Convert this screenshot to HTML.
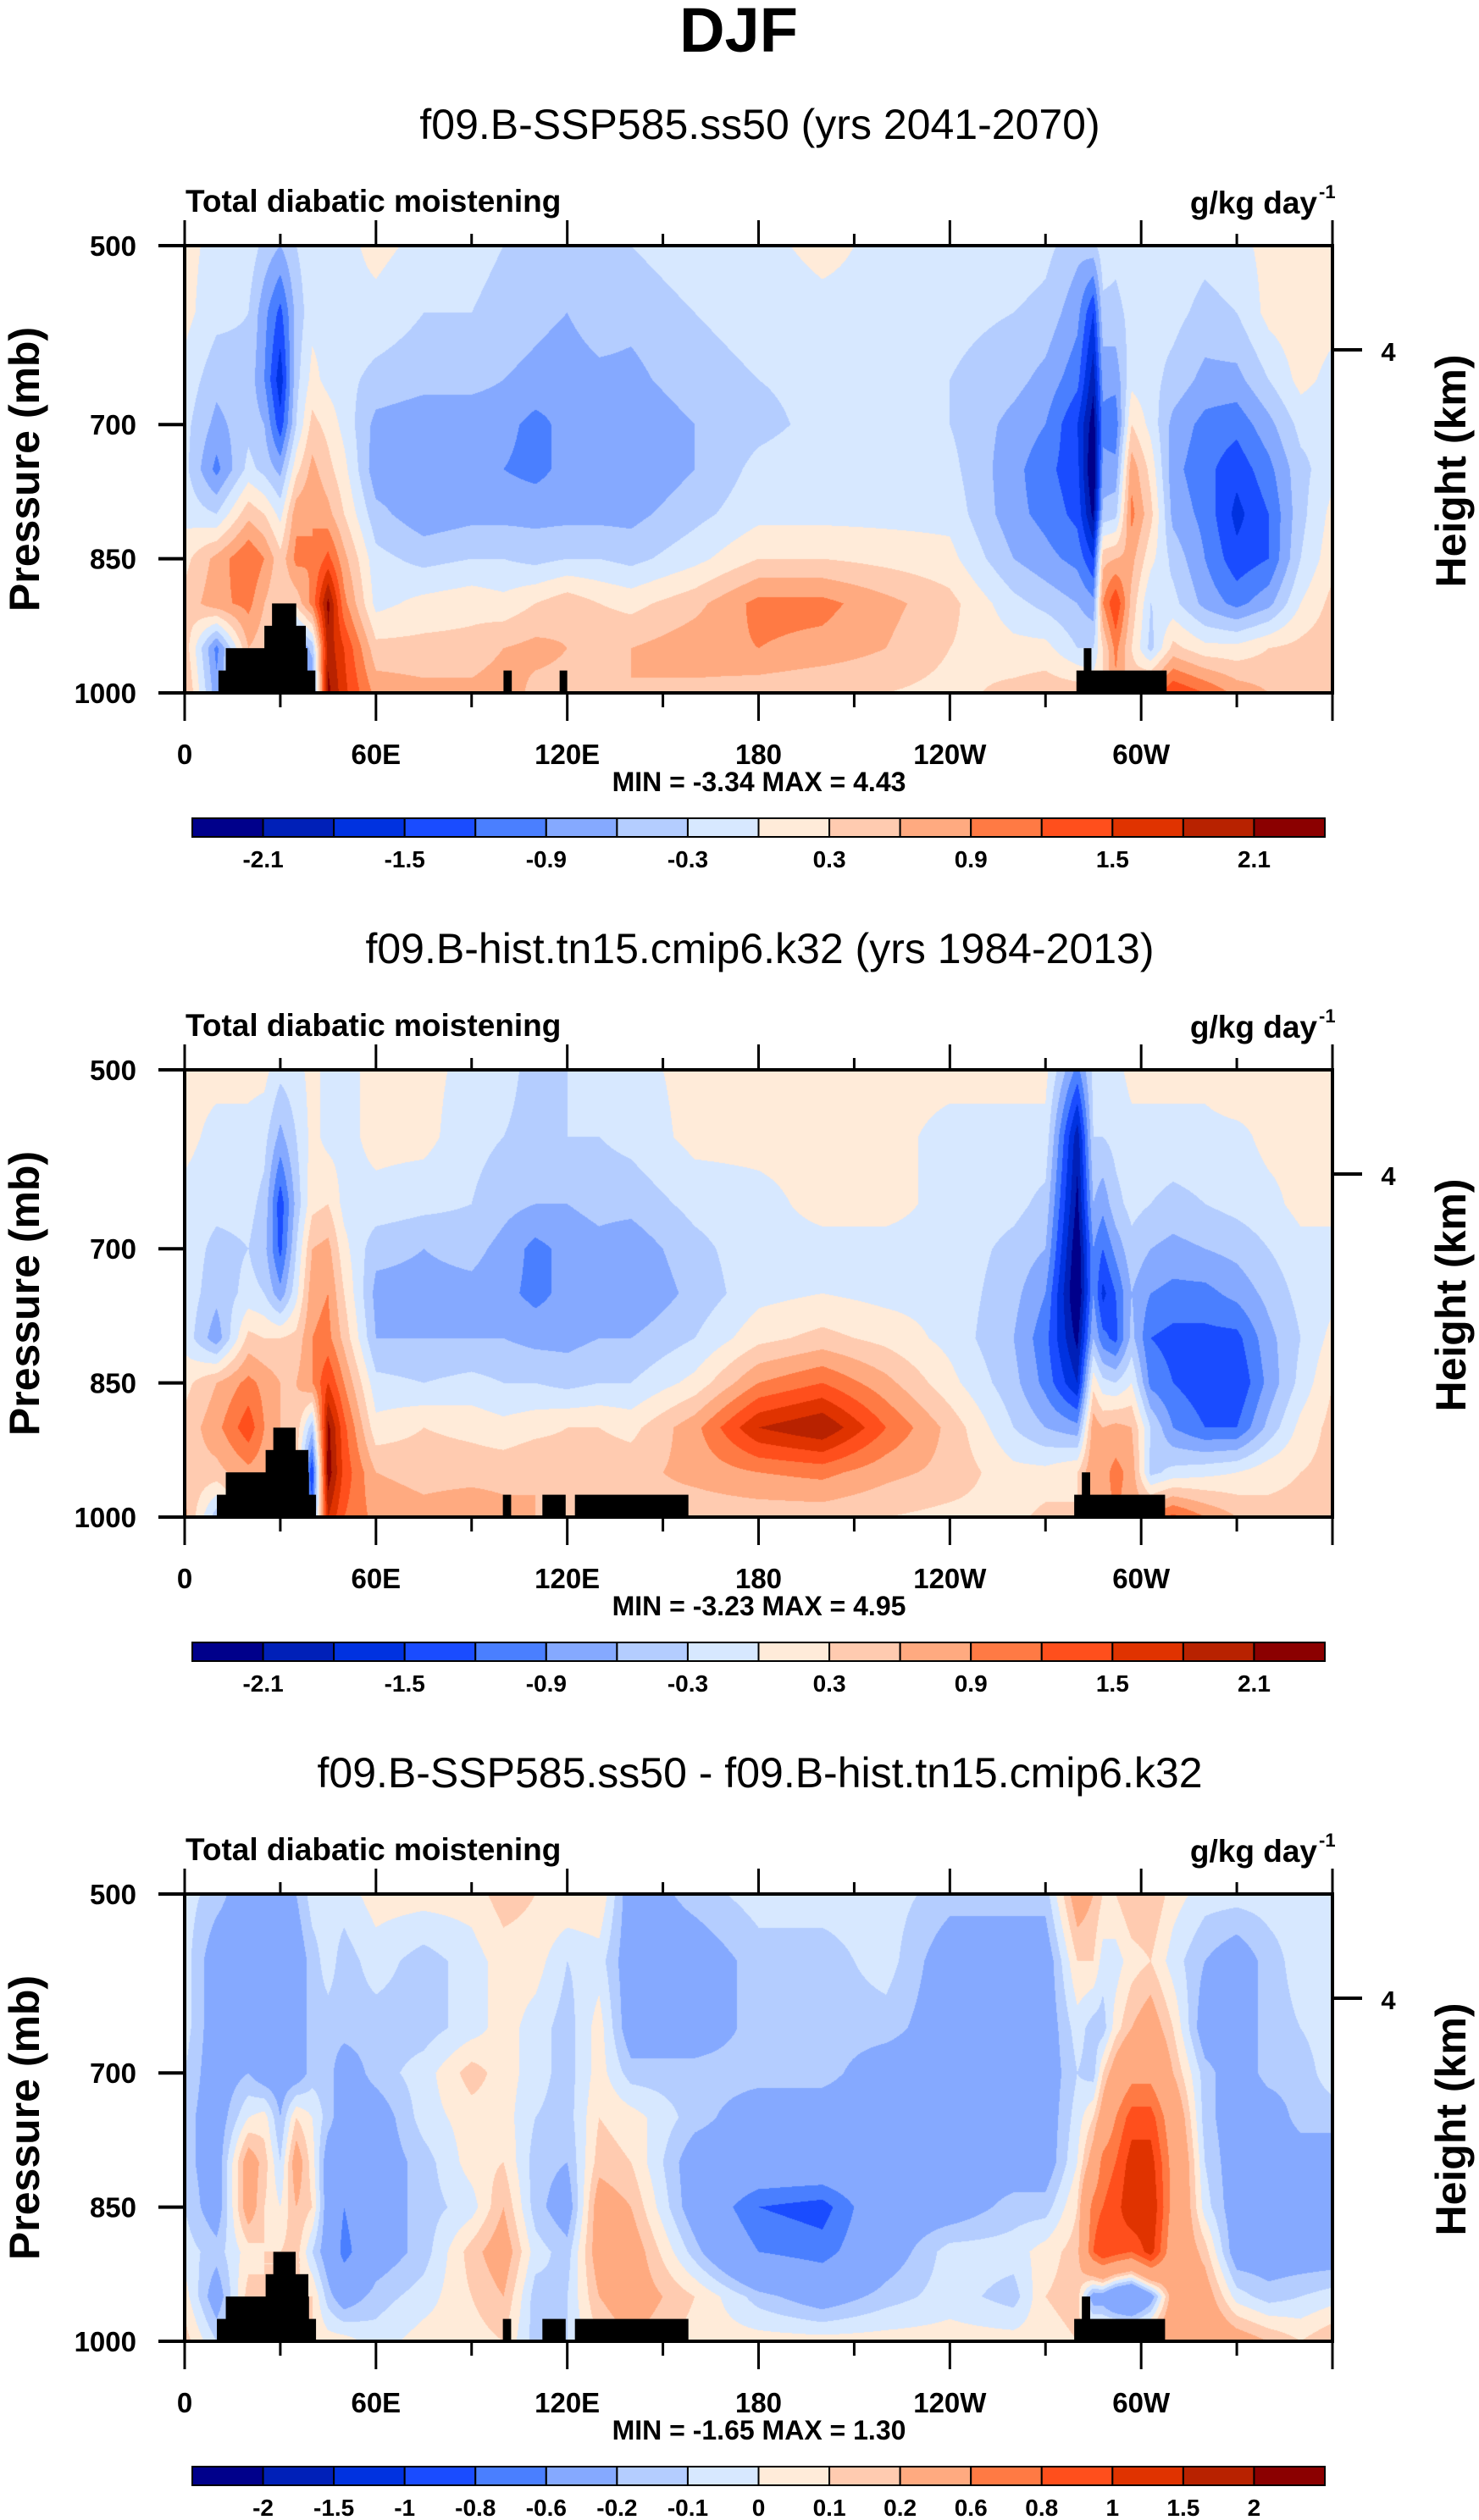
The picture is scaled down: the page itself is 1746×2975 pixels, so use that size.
<!DOCTYPE html>
<html><head><meta charset="utf-8">
<style>
html,body{margin:0;padding:0;background:#fff;}
#wrap{position:relative;width:1746px;height:2975px;overflow:hidden;background:#fff;font-family:"Liberation Sans",Arial,sans-serif;}
canvas{position:absolute;}
svg{position:absolute;left:0;top:0;}
</style></head>
<body>
<div id="wrap">
<canvas id="c0"></canvas>
<canvas id="c1"></canvas>
<canvas id="c2"></canvas>
<svg id="ov" width="1746" height="2975" xmlns="http://www.w3.org/2000/svg">
<text x="872" y="61" text-anchor="middle" font-size="74" font-weight="bold" font-family="Liberation Sans, sans-serif">DJF</text>
</svg>
</div>
<script>
const lonPts=[0,10,20,25,30,35,40,45,50,60,75,90,100,110,120,130,140,160,180,200,220,240,260,270,280,285,288,292,297,303,310,320,330,340,350,360];
const presLevels=[500,575,650,700,750,800,850,900,950,1000];
const field1=[
[0.1,0.1,-0.1,-0.2,-0.2,-0.1,0.2,0.4,0.5,0.7],
[-0.1,-0.2,-0.5,-0.7,-1.0,-0.3,0.7,0.8,-1.0,-0.8],
[-0.1,-0.3,-0.4,-0.4,-0.2,0.5,1.2,1.0,0.6,0.5],
[-0.4,-0.8,-0.9,-0.6,-0.4,0.3,0.9,0.6,0.4,0.4],
[-0.6,-1.3,-1.7,-1.4,-0.7,-0.1,0.4,0.3,0.3,0.3],
[-0.3,-0.5,-0.4,-0.3,0.2,0.8,1.0,0.4,-1.0,-0.8],
[-0.1,-0.1,0.1,0.4,0.7,0.9,0.9,1.0,-0.5,-1.0],
[-0.1,-0.1,-0.1,0.2,0.4,0.7,1.3,2.2,2.0,2.2],
[-0.1,-0.1,-0.2,-0.1,0.1,0.3,0.7,1.0,1.5,1.6],
[0.1,-0.1,-0.4,-0.7,-0.8,-0.5,-0.2,-0.1,0.4,0.8],
[-0.1,-0.3,-0.5,-0.8,-0.8,-0.8,-0.4,0.1,0.4,0.7],
[-0.2,-0.3,-0.5,-0.8,-0.9,-0.7,-0.3,0.2,0.4,0.7],
[-0.3,-0.4,-0.6,-0.8,-0.9,-0.7,-0.3,0.1,0.6,0.8],
[-0.3,-0.5,-0.7,-1.0,-1.0,-0.7,-0.4,0.3,0.7,0.5],
[-0.4,-0.6,-0.8,-0.8,-0.8,-0.7,-0.3,0.5,0.6,0.5],
[-0.3,-0.4,-0.7,-0.8,-0.8,-0.7,-0.3,0.3,0.6,0.5],
[-0.3,-0.5,-0.7,-0.9,-0.9,-0.7,-0.4,0.2,0.6,0.6],
[-0.1,-0.3,-0.4,-0.6,-0.6,-0.4,-0.1,0.5,0.8,0.5],
[-0.1,-0.2,-0.3,-0.4,-0.2,-0.1,0.3,1.0,0.9,0.4],
[0.1,-0.1,-0.2,-0.2,-0.1,-0.1,0.3,1.0,0.8,0.3],
[-0.1,-0.1,-0.2,-0.2,-0.1,-0.1,0.2,0.7,0.6,0.3],
[-0.1,-0.2,-0.3,-0.3,-0.2,-0.1,0.1,0.4,0.3,0.2],
[-0.1,-0.3,-0.5,-0.7,-0.8,-0.8,-0.6,-0.2,0.1,0.4],
[-0.2,-0.4,-0.7,-0.9,-1.1,-1.0,-0.8,-0.4,0.1,0.5],
[-0.5,-0.8,-1.1,-1.5,-1.4,-1.3,-1.0,-0.6,-0.3,0.5],
[-0.4,-1.5,-2.0,-2.3,-2.5,-2.2,-1.5,-0.8,-0.3,0.3],
[-0.1,-0.4,-0.8,-1.0,-0.8,-0.5,0.5,0.9,0.3,0.3],
[-0.2,-0.4,-0.8,-1.1,-0.8,-0.4,0.6,1.5,1.0,0.8],
[-0.1,-0.2,-0.1,0.3,0.8,1.0,0.7,0.5,0.3,0.5],
[-0.1,-0.2,-0.2,-0.1,0.2,0.4,0.1,-0.3,-0.4,1.0],
[-0.1,-0.2,-0.4,-0.7,-0.8,-0.7,-0.4,-0.2,0.4,1.5],
[-0.2,-0.4,-0.7,-1.0,-1.1,-1.0,-0.9,-0.7,0.1,1.2],
[-0.1,-0.3,-0.7,-1.1,-1.4,-1.6,-1.4,-1.0,0.1,0.8],
[0.1,0.1,-0.3,-0.7,-1.0,-1.2,-1.2,-0.7,0.3,0.6],
[0.1,0.2,0.1,-0.2,-0.4,-0.4,-0.3,0.0,0.4,0.5],
[0.1,0.1,-0.1,-0.2,-0.1,0.1,0.2,0.4,0.5,0.6]
];
const field2=[
[0.1,0.1,-0.1,-0.1,-0.1,-0.1,0.2,0.4,0.5,0.7],
[0.1,-0.1,-0.2,-0.4,-0.5,-0.8,0.6,0.8,0.5,-0.5],
[0.1,-0.1,-0.2,-0.3,-0.2,0.4,1.0,1.4,0.8,0.6],
[0.1,-0.2,-0.4,-0.5,-0.3,0.3,0.8,0.9,0.7,0.6],
[-0.2,-0.7,-1.4,-1.3,-0.8,0.3,0.6,0.6,0.5,0.5],
[-0.1,-0.3,-0.5,-0.3,-0.1,0.4,0.6,0.5,0.4,0.4],
[0.1,0.1,0.2,0.6,0.8,0.9,0.9,-0.5,-1.5,-1.0],
[-0.1,-0.1,0.3,0.7,0.9,1.0,1.5,2.2,2.3,1.8],
[-0.1,-0.1,-0.1,0.1,0.3,0.5,0.9,1.3,1.4,1.2],
[0.1,0.1,-0.1,-0.5,-0.7,-0.6,-0.2,0.1,0.6,0.8],
[0.1,0.1,-0.2,-0.6,-0.7,-0.6,-0.3,0.3,0.5,0.7],
[-0.1,-0.2,-0.3,-0.5,-0.7,-0.6,-0.2,0.2,0.5,0.8],
[-0.2,-0.3,-0.5,-0.7,-0.8,-0.6,-0.3,0.1,0.5,0.7],
[-0.4,-0.4,-0.6,-1.0,-1.0,-0.7,-0.3,0.2,0.6,0.6],
[-0.3,-0.3,-0.6,-0.8,-0.8,-0.7,-0.4,0.3,0.5,0.6],
[-0.2,-0.3,-0.5,-0.7,-0.7,-0.6,-0.3,0.3,0.5,0.5],
[-0.1,-0.2,-0.5,-0.8,-0.9,-0.6,-0.3,0.2,0.5,0.5],
[0.1,0.1,-0.2,-0.4,-0.5,-0.3,0.1,0.8,0.7,0.4],
[0.1,0.1,-0.1,-0.1,-0.1,0.2,0.9,1.8,0.9,0.4],
[0.1,0.1,0.1,-0.1,0.0,0.4,1.2,2.1,1.0,0.4],
[0.1,0.1,0.1,-0.1,-0.1,0.2,0.7,1.2,0.7,0.3],
[0.1,-0.1,-0.1,-0.1,-0.1,-0.1,0.1,0.5,0.5,0.2],
[0.1,-0.1,-0.2,-0.4,-0.5,-0.6,-0.5,-0.3,0.1,0.2],
[0.1,-0.1,-0.4,-0.6,-0.9,-1.1,-1.0,-0.6,0.1,0.4],
[-1.0,-2.0,-2.2,-2.4,-2.5,-2.2,-1.8,-0.8,0.3,0.3],
[-0.2,-0.3,-0.6,-0.9,-0.9,-0.6,0.2,0.8,0.9,0.8],
[-0.1,-0.3,-0.8,-1.2,-1.6,-1.1,-0.2,0.6,0.8,0.8],
[-0.1,-0.2,-0.4,-0.8,-1.2,-1.3,-0.3,0.7,1.0,0.9],
[0.1,-0.1,-0.2,-0.4,-0.6,-0.5,0.0,0.6,0.8,0.8],
[0.1,-0.1,-0.3,-0.6,-0.9,-1.2,-1.0,-0.3,-0.4,1.0],
[0.1,-0.1,-0.4,-0.7,-1.0,-1.3,-1.2,-0.9,-0.2,1.3],
[0.1,-0.1,-0.3,-0.6,-1.0,-1.3,-1.4,-1.2,-0.1,0.9],
[0.3,-0.1,-0.2,-0.5,-0.8,-1.3,-1.5,-1.2,0.0,0.6],
[0.1,0.1,-0.1,-0.3,-0.5,-0.7,-0.8,-0.5,0.2,0.4],
[0.1,0.1,0.1,-0.1,-0.2,-0.3,-0.2,0.1,0.3,0.4],
[0.1,0.1,0.1,-0.1,-0.1,0.1,0.3,0.4,0.4,0.4]
];
const field3=[
[-0.05,-0.05,-0.05,-0.1,-0.15,-0.15,-0.1,-0.05,0.05,0.15],
[-0.15,-0.3,-0.3,-0.3,-0.3,-0.3,-0.3,-0.15,-0.3,-0.1],
[-0.3,-0.3,-0.3,-0.2,0.0,0.3,0.3,0.05,0.15,0.1],
[-0.3,-0.3,-0.3,-0.3,0.05,0.15,0.1,0.1,0.1,0.1],
[-0.3,-0.3,-0.4,-0.3,-0.2,-0.1,0.0,0.1,0.1,0.1],
[-0.2,-0.3,-0.3,-0.3,0.1,0.3,0.2,0.15,0.1,0.1],
[-0.05,-0.15,-0.15,-0.15,0.0,0.05,0.1,-0.1,0.1,0.1],
[-0.05,-0.05,-0.15,-0.15,-0.15,-0.3,-0.3,-0.3,-0.15,0.05],
[-0.05,-0.15,-0.15,-0.3,-0.3,-0.3,-0.6,-0.7,-0.3,0.05],
[0.05,-0.05,-0.15,-0.15,-0.3,-0.3,-0.3,-0.3,-0.15,-0.05],
[0.05,-0.15,-0.15,-0.05,-0.05,-0.15,-0.15,-0.15,-0.05,0.05],
[0.05,-0.05,-0.05,0.15,0.05,0.05,-0.05,0.15,0.1,0.05],
[0.15,0.05,0.05,0.05,0.05,0.1,0.2,0.3,0.2,0.1],
[0.1,0.05,-0.05,-0.05,-0.1,-0.15,-0.15,-0.05,-0.15,-0.15],
[0.1,-0.1,-0.15,-0.15,-0.15,-0.2,-0.3,-0.15,-0.1,-0.1],
[0.1,-0.05,0.05,0.05,0.1,0.15,0.3,0.3,0.2,0.1],
[-0.3,-0.3,-0.3,-0.15,0.05,0.1,0.2,0.3,0.3,0.2],
[-0.15,-0.3,-0.3,-0.15,-0.15,-0.3,-0.3,-0.15,0.1,0.05],
[-0.05,-0.15,-0.15,-0.15,-0.3,-0.3,-0.8,-0.6,-0.15,0.05],
[-0.05,-0.15,-0.15,-0.15,-0.3,-0.3,-0.9,-0.7,-0.3,0.05],
[-0.05,-0.05,-0.15,-0.3,-0.3,-0.3,-0.3,-0.3,-0.15,0.05],
[-0.15,-0.3,-0.3,-0.3,-0.3,-0.3,-0.3,-0.05,-0.05,0.05],
[-0.15,-0.3,-0.3,-0.3,-0.3,-0.3,-0.15,-0.05,-0.15,0.05],
[-0.15,-0.3,-0.3,-0.3,-0.3,-0.3,-0.15,0.05,0.1,0.05],
[0.3,0.1,-0.05,-0.1,-0.05,0.0,0.1,0.15,0.15,0.1],
[0.2,0.1,-0.15,-0.15,0.1,0.3,0.7,0.8,-0.3,0.2],
[0.1,-0.05,-0.15,0.1,0.3,0.7,0.8,1.0,-0.3,0.2],
[0.1,-0.05,0.05,0.3,0.6,0.8,0.9,0.9,-0.5,0.3],
[0.2,0.05,0.2,0.5,0.9,1.1,1.2,0.8,-0.6,0.3],
[0.2,0.1,0.3,0.5,0.9,1.1,1.2,1.1,-0.3,0.3],
[0.05,-0.05,0.1,0.2,0.4,0.5,0.5,0.4,0.3,0.4],
[-0.05,-0.2,-0.3,-0.15,-0.15,-0.1,-0.05,0.15,0.3,0.4],
[-0.05,-0.3,-0.3,-0.3,-0.3,-0.3,-0.3,-0.3,-0.05,0.3],
[-0.05,-0.15,-0.15,-0.15,-0.3,-0.3,-0.3,-0.3,-0.15,0.2],
[-0.05,-0.05,-0.1,-0.15,-0.15,-0.3,-0.3,-0.3,-0.1,0.1],
[-0.05,-0.05,-0.05,-0.05,-0.15,-0.3,-0.3,-0.3,-0.05,0.2]
];
const levelsAbs=[-2.1,-1.8,-1.5,-1.2,-0.9,-0.6,-0.3,0,0.3,0.6,0.9,1.2,1.5,1.8,2.1];
const levelsDiff=[-2,-1.5,-1,-0.8,-0.6,-0.2,-0.1,0,0.1,0.2,0.6,0.8,1,1.5,2];
const cbLabelsAbs=['-2.1','','-1.5','','-0.9','','-0.3','','0.3','','0.9','','1.5','','2.1'];
const cbLabelsDiff=['-2','-1.5','-1','-0.8','-0.6','-0.2','-0.1','0','0.1','0.2','0.6','0.8','1','1.5','2'];
const palette=['#00008B','#0020B8','#0032E0','#1A4CFF','#4A7FFF','#85A9FF','#B4CDFF','#D7E8FF','#FFEBD9','#FFCBB0','#FFAA80','#FF7A44','#FF4F1C','#E03300','#B82200','#8B0000'];
const topoA=[[10.6,41,975],[12.9,38.5,950],[25,38,925],[27.4,35,900],[100,102.6,975],[117.6,120,975],[279.7,308,975],[282,284.4,950]];
const topoB=[[10.1,41.2,975],[12.9,39,950],[25.4,38.8,925],[27.8,34.8,900],[99.8,102.4,975],[112.2,119.5,975],[122.4,158,975],[279,307.5,975],[281.4,284,950]];
const lonTickVals=[0,60,120,180,240,300];
const lonTickLabels=['0','60E','120E','180','120W','60W'];
const presTicks=[500,700,850,1000];
const subtitles=['f09.B-SSP585.ss50 (yrs 2041-2070)','f09.B-hist.tn15.cmip6.k32 (yrs 1984-2013)','f09.B-SSP585.ss50 - f09.B-hist.tn15.cmip6.k32'];
const minVals=['-3.34','-3.23','-1.65'];
const maxVals=['4.43','4.95','1.30'];

const FL=218, FW=1355, FH=528;
const panelTops=[290,1263,2236];
const NS='http://www.w3.org/2000/svg';
const svg=document.getElementById('ov');
function xOfLon(lon){return FL+lon/360*FW;}
function yOfP(p,top){return top+(p-500)/500*FH;}
function hex2rgb(h){return [parseInt(h.substr(1,2),16),parseInt(h.substr(3,2),16),parseInt(h.substr(5,2),16)];}
const rgbPal=palette.map(hex2rgb);
function seg(arr,v){let i=0;while(i<arr.length-2&&v>arr[i+1])i++;return i;}
function classify(v,lv){let k=0;while(k<lv.length&&v>=lv[k])k++;return k;}
function mk(tag,attrs,parent){const e=document.createElementNS(NS,tag);for(const k in attrs)e.setAttribute(k,attrs[k]);(parent||svg).appendChild(e);return e;}

function drawField(cid,field,lv,top){
  const cv=document.getElementById(cid);
  cv.width=FW;cv.height=FH;cv.style.left=FL+'px';cv.style.top=top+'px';
  const ctx=cv.getContext('2d');const img=ctx.createImageData(FW,FH);
  const rowInfo=[];
  for(let y=0;y<FH;y++){const p=500+(y+0.5)/FH*500;const j=seg(presLevels,p);rowInfo.push([j,(p-presLevels[j])/(presLevels[j+1]-presLevels[j])]);}
  for(let x=0;x<FW;x++){
    const lon=(x+0.5)/FW*360;const i=seg(lonPts,lon);const t=(lon-lonPts[i])/(lonPts[i+1]-lonPts[i]);
    const a=field[i],b=field[i+1];
    for(let y=0;y<FH;y++){
      const j=rowInfo[y][0],u=rowInfo[y][1];
      const v0=a[j]*(1-t)+b[j]*t, v1=a[j+1]*(1-t)+b[j+1]*t;
      const v=v0*(1-u)+v1*u;
      const c=rgbPal[classify(v,lv)];
      const o=(y*FW+x)*4;img.data[o]=c[0];img.data[o+1]=c[1];img.data[o+2]=c[2];img.data[o+3]=255;
    }
  }
  ctx.putImageData(img,0,0);
}

function txt(x,y,s,size,weight,anchor,name,extra){
  const e=mk('text',{x:x,y:y,'font-size':size,'font-weight':weight,'text-anchor':anchor,'font-family':'Liberation Sans, sans-serif',fill:'#000'});
  if(extra)e.setAttribute('transform',extra);
  e.textContent=s;
  
  
  return e;
}

const fields=[field1,field2,field3];
for(let k=0;k<3;k++){
  const top=panelTops[k],dy=top-290,bot=top+FH;
  const lv=k<2?levelsAbs:levelsDiff;
  drawField('c'+k,fields[k],lv,top);
  const g=mk('g',{});
  
  
  const topo=k===0?topoA:topoB;
  topo.forEach(r=>{
    const e=mk('rect',{x:xOfLon(r[0]),y:yOfP(r[2],top),width:xOfLon(r[1])-xOfLon(r[0]),height:yOfP(1000,top)-yOfP(r[2],top),fill:'#000'},g);
    
    
  });
  const fr=mk('rect',{x:FL,y:top,width:FW,height:FH,fill:'none',stroke:'#000','stroke-width':4},g);
  
  
  for(let lon=0;lon<=360;lon+=30){
    const x=xOfLon(lon),major=lon%60===0,len=major?30:14;
    const t1=mk('line',{x1:x,x2:x,y1:top,y2:top-len,stroke:'#000','stroke-width':3},g);
    
    
    const t2=mk('line',{x1:x,x2:x,y1:bot,y2:bot+len+3,stroke:'#000','stroke-width':3},g);
    
    
  }
  lonTickVals.forEach((v,i)=>{txt(xOfLon(v),902+dy,lonTickLabels[i],33,'bold','middle','x-tick-label');});
  presTicks.forEach(p=>{
    const y=yOfP(p,top);
    const t=mk('line',{x1:FL,x2:FL-31,y1:y,y2:y,stroke:'#000','stroke-width':4},g);
    
    
    txt(161,y+12,String(p),33,'bold','end','y-tick-label');
  });
  const ht=mk('line',{x1:FL+FW,x2:1608,y1:413+dy,y2:413+dy,stroke:'#000','stroke-width':4},g);
  
  
  txt(1639,426+dy,'4',31,'bold','middle','height-tick-label');
  txt(46,554+dy,'Pressure (mb)',50,'bold','middle','y-axis-title','rotate(-90 46 '+(554+dy)+')');
  txt(1730,556+dy,'Height (km)',50,'bold','middle','right-axis-title','rotate(-90 1730 '+(556+dy)+')');
  txt(897,164+dy,subtitles[k],50,'normal','middle','panel-subtitle');
  txt(219,250+dy,'Total diabatic moistening',37,'bold','start','variable-label');
  txt(1555,252+dy,'g/kg day',37,'bold','end','units-label');
  txt(1557,234+dy,'-1',22,'bold','start','units-superscript');
  txt(896,934+dy,'MIN =  '+minVals[k]+'   MAX =   '+maxVals[k],32,'bold','middle','min-max-label');
  const cbL=227,cbR=1564,cbT=966+dy,cbH=22,bw=(cbR-cbL)/16;
  for(let i=0;i<16;i++){
    const r=mk('rect',{x:cbL+i*bw,y:cbT,width:bw,height:cbH,fill:palette[i],stroke:'#000','stroke-width':2},g);
    
    
  }
  const labs=k<2?cbLabelsAbs:cbLabelsDiff;
  labs.forEach((s,i)=>{if(s)txt(cbL+(i+1)*bw,1024+dy,s,28,'bold','middle','colorbar-label');});
}
</script>
</body></html>
